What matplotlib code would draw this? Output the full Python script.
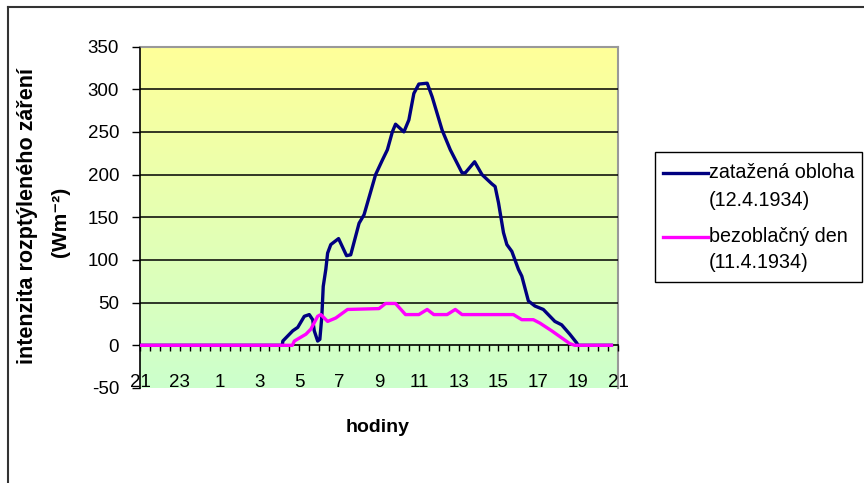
import numpy as np
import matplotlib.pyplot as plt
from matplotlib.lines import Line2D
from matplotlib.patches import Rectangle

plt.rcParams['font.family'] = ['Liberation Sans', 'DejaVu Sans']
plt.rcParams['axes.unicode_minus'] = False

# cas v hodinach od 21:00 predchoziho dne, intenzita ve W/m2
t_oblacno = [0.0, 7.15, 7.17, 7.67, 7.92, 8.25, 8.5, 8.67, 8.75, 8.92, 9.03, 9.13,
             9.2, 9.33, 9.42, 9.58, 9.97, 10.37, 10.58, 11.0, 11.25, 11.83, 12.17,
             12.42, 12.67, 12.83, 13.25, 13.5, 13.75, 14.0, 14.42, 14.67, 15.17,
             15.58, 16.17, 16.33, 16.8, 17.17, 17.67, 17.83, 18.0, 18.25, 18.42,
             18.67, 19.0, 19.17, 19.5, 19.83, 20.25, 20.83, 21.17, 21.58, 21.92,
             22.0, 23.67]
I_oblacno = [0, 0, 5, 17, 21, 34, 36, 30, 17, 5, 7, 34,
             69, 89, 108, 118, 125, 105, 106, 143, 153, 200, 217,
             229, 250, 259, 250, 264, 295, 306, 307, 291, 252,
             229, 202, 202, 215, 200, 189, 186, 167, 132, 118,
             110, 89, 81, 52, 46, 42, 28, 24, 13, 3,
             0, 0]

t_jasno = [0.0, 7.65, 7.75, 8.33, 8.58, 8.92, 9.08, 9.42, 9.83, 10.42, 12.0, 12.33,
           12.83, 13.33, 14.0, 14.42, 14.75, 15.42, 15.83, 16.17, 18.75, 19.17,
           19.75, 20.08, 20.67, 21.58, 21.83, 23.67]
I_jasno = [0, 0, 5, 13, 19, 34, 36, 28, 32, 42, 43, 49,
           49, 36, 36, 42, 36, 36, 42, 36, 36, 30,
           30, 26, 17, 2, 0, 0]

hodiny = ['21', '23', '1', '3', '5', '7', '9', '11', '13', '15', '17', '19', '21']
y_ticks = [-50, 0, 50, 100, 150, 200, 250, 300, 350]

W, H = 864, 483
fig = plt.figure(figsize=(W / 100, H / 100), dpi=100)
ax = fig.add_axes([140 / W, 1 - 388 / H, (618 - 140) / W, (388 - 46.5) / H])

# prechod zluta -> svetle zelena v pozadi grafu
grad = np.linspace(0, 1, 256)[:, None]
top = np.array([1.0, 1.0, 0.6])
bottom = np.array([0.8, 1.0, 0.8])
img = top + grad[..., None] * (bottom - top)
ax.imshow(img, extent=[0, 24, -50, 350], aspect='auto', origin='upper', zorder=0)

ax.set_xlim(0, 24)
ax.set_ylim(-50, 350)

ax.plot(t_oblacno, I_oblacno, color='#000080', lw=2.4, zorder=3)
ax.plot(t_jasno, I_jasno, color='#FF00FF', lw=2.4, zorder=4)

ax.set_yticks(y_ticks)
ax.set_xticks(np.arange(0, 25, 2))
ax.set_xticklabels(hodiny)
ax.set_xticks(np.arange(0, 24.01, 0.5), minor=True)

ax.yaxis.grid(True, color='black', lw=1.1, zorder=1)
for gl, v in zip(ax.get_ygridlines(), y_ticks):
    if v in (-50, 0, 350):
        gl.set_visible(False)
ax.set_axisbelow(False)

ax.spines['bottom'].set_position(('data', 0))
ax.spines['bottom'].set_linewidth(1.2)
ax.spines['left'].set_linewidth(1.2)
for s in ('top', 'right'):
    ax.spines[s].set_color('#999999')
    ax.spines[s].set_linewidth(1.5)

ax.tick_params(axis='y', direction='out', length=6, width=1, pad=9, labelsize=13.5)
ax.tick_params(axis='x', which='both', direction='out', length=4.3, width=1,
               pad=16, labelsize=13.5)

fig.text(28 / W, 1 - 216 / H, 'intenzita rozptýleného záření', rotation=90,
         ha='center', va='center', fontweight='bold', fontsize=15.5)
fig.text(61 / W, 1 - 222 / H, '(Wm⁻²)', rotation=90,
         ha='center', va='center', fontweight='bold', fontsize=15)
fig.text(378 / W, 1 - 428 / H, 'hodiny', ha='center', va='center',
         fontweight='bold', fontsize=14)

# legenda
fig.add_artist(Rectangle((655 / W, 1 - 282 / H), (862 - 655) / W, (282 - 152) / H,
                         transform=fig.transFigure, facecolor='white',
                         edgecolor='black', lw=1))
legenda = [('#000080', 'zatažená obloha', '(12.4.1934)', 173, 200),
           ('#FF00FF', 'bezoblačný den', '(11.4.1934)', 237, 263)]
for barva, radek1, radek2, y1, y2 in legenda:
    fig.add_artist(Line2D([663 / W, 708 / W], [1 - y1 / H] * 2, color=barva, lw=2.4))
    fig.text(709 / W, 1 - y1 / H, radek1, ha='left', va='center', fontsize=14.2)
    fig.text(709 / W, 1 - y2 / H, radek2, ha='left', va='center', fontsize=14.2)

# ramecek kolem celeho grafu
fig.add_artist(Line2D([8 / W, 1], [1 - 7 / H] * 2, color='#333333', lw=1.5))
fig.add_artist(Line2D([8 / W] * 2, [1 - 7 / H, 0], color='#333333', lw=1.5))

fig.savefig('out.png', dpi=100)
